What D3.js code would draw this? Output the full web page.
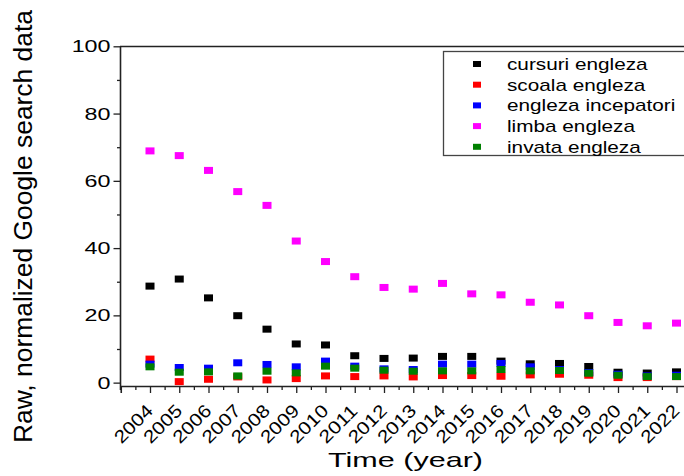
<!DOCTYPE html>
<html>
<head>
<meta charset="utf-8">
<script src="https://cdn.jsdelivr.net/npm/d3@7"></script>
<style>
  body { margin: 0; background: #fff; }
  svg { display: block; font-family: "Liberation Sans", Arial, sans-serif; }
</style>
</head>
<body>
<svg width="684" height="476"></svg>
<script>
// years on the x axis
const years = [2004, 2005, 2006, 2007, 2008, 2009, 2010, 2011, 2012, 2013,
               2014, 2015, 2016, 2017, 2018, 2019, 2020, 2021, 2022];

// values, one per year
const cursuri    = [28.7, 30.8, 25.2, 19.9, 15.9, 11.5, 11.2, 8.0, 7.2, 7.3, 7.8, 7.8, 6.4, 5.6, 5.7, 4.8, 3.1, 2.85, 3.2];
const scoala     = [7.0, 0.3, 1.0, 1.7, 0.8, 1.2, 2.0, 1.8, 2.0, 1.7, 2.1, 2.1, 1.9, 2.3, 2.5, 2.2, 1.5, 1.5, 1.8];
const incepatori = [5.5, 4.5, 4.3, 5.9, 5.4, 4.7, 6.4, 4.9, 4.1, 3.9, 5.5, 5.5, 5.7, 4.7, 3.9, 3.0, 2.5, 2.0, 2.2];
const limba      = [68.9, 67.5, 63.1, 56.8, 52.7, 42.1, 36.0, 31.5, 28.3, 27.8, 29.5, 26.4, 26.1, 23.9, 23.1, 19.9, 17.9, 16.9, 17.7];
const invata     = [4.7, 3.1, 3.2, 2.0, 3.4, 2.9, 4.9, 4.3, 3.7, 3.4, 3.5, 3.5, 3.9, 3.5, 3.6, 2.8, 2.2, 1.8, 1.8];

const seriesNames  = ["cursuri engleza", "scoala engleza", "engleza incepatori", "limba engleza", "invata engleza"];
const seriesValues = [cursuri, scoala, incepatori, limba, invata];
const seriesColors = ["#000000", "#ff0000", "#0000ff", "#ff00ff", "#008000"];

const yTicks = [0, 20, 40, 60, 80, 100];
const yMinor = [10, 30, 50, 70, 90];

const svg = d3.select("svg");

// the original text is wider than Arial, stretch it
function stretch(sel, k) {
  sel.each(function() {
    const w = this.getComputedTextLength();
    d3.select(this).attr("textLength", w * k).attr("lengthAdjust", "spacingAndGlyphs");
  });
}

const x = d3.scaleLinear().domain([2003, 2023]).range([120.75, 705.75]);
const y = d3.scaleLinear().domain([-1, 100]).range([386, 46.3]);

// frame (right side falls outside the picture)
svg.append("line").attr("x1", 120).attr("x2", 684).attr("y1", 46.5).attr("y2", 46.5)
   .attr("stroke", "#222").attr("stroke-width", 1.6);

// x axis
const xMinor = years.map(d => d + 0.5).concat([2003.5]);
svg.append("g")
   .attr("transform", "translate(0,386)")
   .call(d3.axisBottom(x).tickValues(xMinor).tickSize(4).tickFormat(""))
   .call(g => g.select(".domain").remove())
   .selectAll("line").attr("stroke", "#222").attr("stroke-width", 1.3);

const xAxis = svg.append("g")
   .attr("transform", "translate(0,386)")
   .call(d3.axisBottom(x).tickValues(years).tickSize(7).tickFormat(d3.format("d")));
xAxis.select(".domain").attr("stroke", "#222").attr("stroke-width", 1.6);
xAxis.selectAll("line").attr("stroke", "#222").attr("stroke-width", 1.3);
xAxis.selectAll("text")
   .attr("font-size", 18).attr("fill", "#000")
   .attr("text-anchor", "end")
   .attr("y", 0).attr("dy", 0)
   .attr("transform", "translate(3.5,26) rotate(-45)")
   .attr("textLength", 46).attr("lengthAdjust", "spacingAndGlyphs");

// y axis
svg.append("g")
   .attr("transform", "translate(120.5,0)")
   .call(d3.axisLeft(y).tickValues(yMinor).tickSize(3.5).tickFormat(""))
   .call(g => g.select(".domain").remove())
   .selectAll("line").attr("stroke", "#222").attr("stroke-width", 1.3);

const yAxis = svg.append("g")
   .attr("transform", "translate(120.5,0)")
   .call(d3.axisLeft(y).tickValues(yTicks).tickSize(7).tickPadding(3));
yAxis.select(".domain").attr("d", "M0,46.5V390").attr("stroke", "#222").attr("stroke-width", 1.6);
yAxis.selectAll("line").attr("stroke", "#222").attr("stroke-width", 1.3);
yAxis.selectAll("text").attr("font-size", 17).attr("fill", "#000");
stretch(yAxis.selectAll("text"), 1.37);

// points
const mw = 9, mh = 7;
seriesValues.forEach((vals, i) => {
  svg.append("g").selectAll("rect")
     .data(vals)
     .enter()
     .append("rect")
     .attr("x", (d, j) => x(years[j]) - mw / 2)
     .attr("y", d => y(d) - mh / 2)
     .attr("width", mw)
     .attr("height", mh)
     .attr("fill", seriesColors[i]);
});

// legend
const legend = svg.append("g");
legend.append("rect")
      .attr("x", 443.5).attr("y", 51.5).attr("width", 250).attr("height", 104)
      .attr("fill", "#fff").attr("stroke", "#444").attr("stroke-width", 1.3);
seriesNames.forEach((name, i) => {
  const ly = 64 + i * 20.7;
  legend.append("rect")
        .attr("x", 473).attr("y", ly - 3).attr("width", 8).attr("height", 6)
        .attr("fill", seriesColors[i]);
  legend.append("text")
        .attr("x", 507).attr("y", ly).attr("dy", "0.35em")
        .attr("font-size", 17).attr("fill", "#000")
        .text(name);
});
stretch(legend.selectAll("text"), 1.22);

// axis titles
const xt = svg.append("text")
   .attr("x", 405.5).attr("y", 467)
   .attr("text-anchor", "middle")
   .attr("font-size", 21)
   .text("Time (year)");
xt.attr("textLength", 155).attr("lengthAdjust", "spacingAndGlyphs");

svg.append("text")
   .attr("transform", "translate(32,226.5) rotate(-90)")
   .attr("text-anchor", "middle")
   .attr("font-size", 26)
   .attr("textLength", 433).attr("lengthAdjust", "spacingAndGlyphs")
   .text("Raw, normalized Google search data");
</script>
</body>
</html>
